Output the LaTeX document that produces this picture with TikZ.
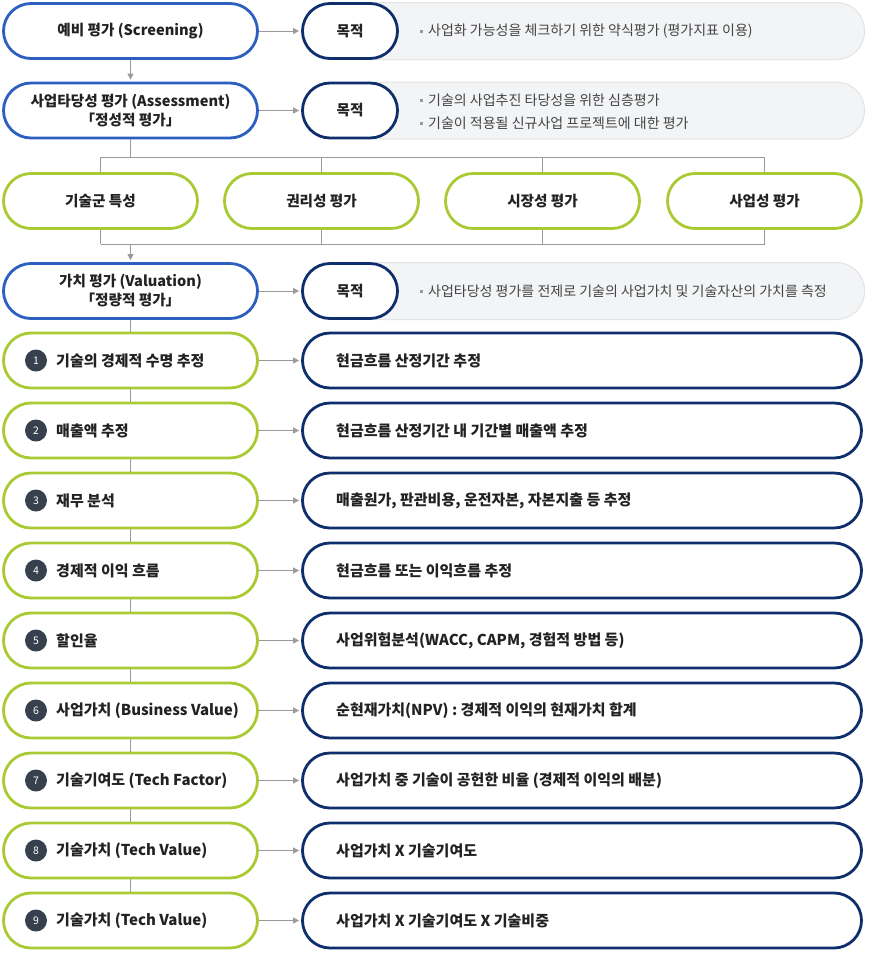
\documentclass[tikz,border=0pt]{standalone}
\usepackage{fontspec}
\setmainfont{Noto Sans CJK KR}
\usetikzlibrary{arrows.meta,calc}
\definecolor{cblue}{HTML}{2C5FBF}
\definecolor{cnavy}{HTML}{0E2E6C}
\definecolor{cgreen}{HTML}{A9CA32}
\definecolor{cline}{HTML}{9A9A9A}
\definecolor{cgreyfill}{HTML}{F3F4F6}
\definecolor{cgreydraw}{HTML}{E2E3E5}
\definecolor{ctext}{HTML}{222222}
\definecolor{csub}{HTML}{444444}
\definecolor{cdot}{HTML}{37404D}
\begin{document}
\begin{tikzpicture}[x=1pt,y=-1pt,
  pill/.style={draw, line width=2.8pt, fill=white, rounded corners=27.5pt, minimum height=55pt, inner sep=0pt, align=center, text=ctext, font=\bfseries\fontsize{14.6}{19}\selectfont},
  bluepill/.style={pill, draw=cblue, minimum width=254pt},
  greenpill/.style={pill, draw=cgreen, minimum width=254pt},
  grouppill/.style={pill, draw=cgreen, minimum width=194pt},
  aimpill/.style={pill, draw=cnavy, minimum width=95pt},
  rightpill/.style={pill, draw=cnavy, minimum width=559pt},
  greybox/.style={draw=cgreydraw, line width=1pt, fill=cgreyfill, rounded corners=28pt, minimum height=57pt, minimum width=514pt, inner sep=0pt},
  subtext/.style={anchor=west, inner sep=0pt, text=csub, font=\fontsize{14}{17}\selectfont},
  steptext/.style={anchor=west, inner sep=0pt, text=ctext, font=\bfseries\fontsize{15}{18}\selectfont},
  numdot/.style={circle, fill=cdot, minimum size=22pt, inner sep=0pt, text=white, font=\fontsize{10.5}{12}\selectfont},
  bulletsq/.style={fill=cline, minimum size=3pt, inner sep=0pt},
  conn/.style={draw=cline, line width=0.9pt},
  arr/.style={conn, -{Triangle[length=6pt,width=6pt]}, shorten >=2pt}
]
\useasboundingbox (0,0) rectangle (870,962);

% ---- Row A : Screening
\node[greybox] (ga) at (607.5,31) {};
\node[bluepill] (A) at (130.5,31) {예비 평가 (Screening)};
\node[aimpill] (aimA) at (350,31) {목적};
\node[bulletsq] (bA) at (421,31) {};
\node[subtext] (tA) at (428,31) {사업화 가능성을 체크하기 위한 약식평가 (평가지표 이용)};

% ---- Row B : Assessment
\node[greybox] (gb) at (607.5,110.5) {};
\node[bluepill] (B) at (130.5,110.5) {사업타당성 평가 (Assessment)\\「정성적 평가」};
\node[aimpill] (aimB) at (350,110.5) {목적};
\node[bulletsq] (bB1) at (421,100) {};
\node[subtext] (tB1) at (428,100) {기술의 사업추진 타당성을 위한 심층평가};
\node[bulletsq] (bB2) at (421,123) {};
\node[subtext] (tB2) at (428,123) {기술이 적용될 신규사업 프로젝트에 대한 평가};

% ---- Group row
\node[grouppill] (g1) at (100.5,201) {기술군 특성};
\node[grouppill] (g2) at (321.5,201) {권리성 평가};
\node[grouppill] (g3) at (542.5,201) {시장성 평가};
\node[grouppill] (g4) at (764.5,201) {사업성 평가};
\coordinate (busT) at (0,157);
\coordinate (busB) at (0,244);

% ---- Row C : Valuation
\node[greybox] (gc) at (607.5,291) {};
\node[bluepill] (C) at (130.5,291) {가치 평가 (Valuation)\\「정량적 평가」};
\node[aimpill] (aimC) at (350,291) {목적};
\node[bulletsq] (bC) at (421,291) {};
\node[subtext] (tC) at (428,291) {사업타당성 평가를 전제로 기술의 사업가치 및 기술자산의 가치를 측정};

% ---- Steps
\foreach \k/\lt/\rt in {
  1/기술의 경제적 수명 추정/현금흐름 산정기간 추정,
  2/매출액 추정/현금흐름 산정기간 내 기간별 매출액 추정,
  3/재무 분석/{매출원가, 판관비용, 운전자본, 자본지출 등 추정},
  4/경제적 이익 흐름/현금흐름 또는 이익흐름 추정,
  5/할인율/{사업위험분석(WACC, CAPM, 경험적 방법 등)},
  6/사업가치 (Business Value)/순현재가치(NPV) : 경제적 이익의 현재가치 합계,
  7/기술기여도 (Tech Factor)/사업가치 중 기술이 공헌한 비율 (경제적 이익의 배분),
  8/기술가치 (Tech Value)/사업가치 X 기술기여도,
  9/기술가치 (Tech Value)/사업가치 X 기술기여도 X 기술비중}{
  \pgfmathsetmacro{\yy}{360.5+70*(\k-1)}
  \node[greenpill] (s\k) at (130.5,\yy) {};
  \node[numdot] (n\k) at (36,\yy) {\k};
  \node[steptext] (st\k) at (56,\yy) {\lt};
  \node[rightpill] (r\k) at (582,\yy) {};
  \node[steptext] (rt\k) at (336,\yy) {\rt};
  \draw[arr] (s\k.east) -- (r\k.west);
}

% ---- connectors
\draw[arr] (A.east) -- (aimA.west);
\draw[arr] (B.east) -- (aimB.west);
\draw[arr] (C.east) -- (aimC.west);
\draw[arr] (A.south) -- (B.north);
\draw[conn] (B.south) -- (B.south |- busT);
\draw[conn] (g1.north |- busT) -- (g4.north |- busT);
\foreach \g in {g1,g2,g3,g4}{
  \draw[conn] (\g.north |- busT) -- (\g.north);
  \draw[conn] (\g.south) -- (\g.south |- busB);
}
\draw[conn] (g1.south |- busB) -- (g4.south |- busB);
\draw[arr] (C.north |- busB) -- (C.north);
\draw[conn] (C.south) -- (s1.north);
\foreach \a/\b in {1/2,2/3,3/4,4/5,5/6,6/7,7/8,8/9}{
  \draw[conn] (s\a.south) -- (s\b.north);
}
\end{tikzpicture}
\end{document}
